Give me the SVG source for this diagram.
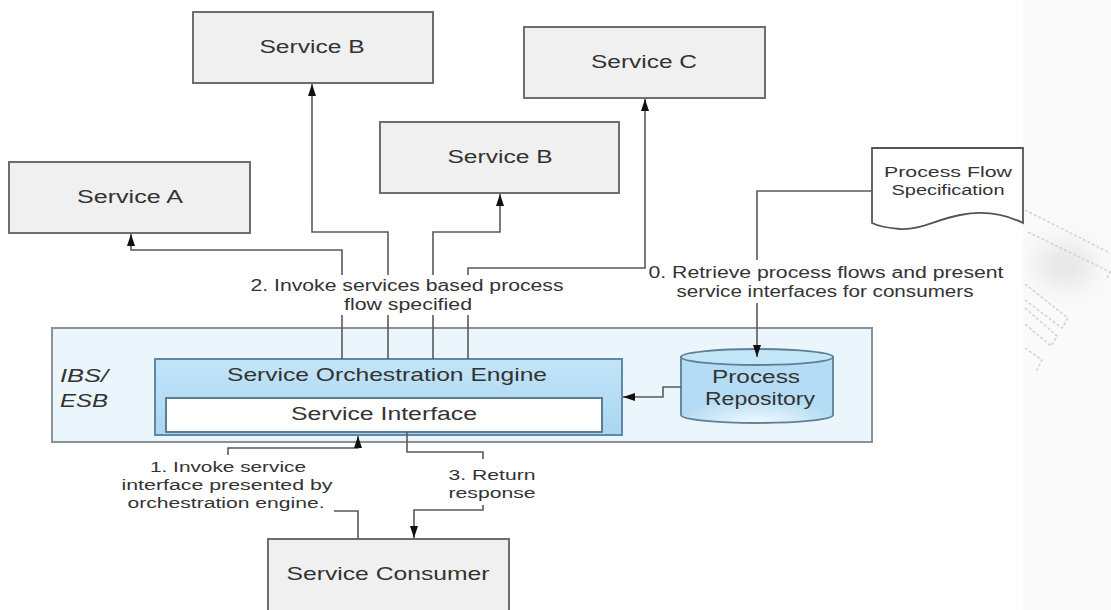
<svg xmlns="http://www.w3.org/2000/svg" width="1111" height="610" viewBox="0 0 1111 610">
  <style>
    text { font-family: "Liberation Sans", Arial, sans-serif; fill: #333; }
    .svc { fill: #f0f0f0; stroke: #6e6e6e; stroke-width: 2; }
    .lbl18 { font-size: 18px; text-anchor: middle; }
    .lbl15 { font-size: 15.5px; text-anchor: middle; }
    .conn { fill: none; stroke: #5a5a5a; stroke-width: 1.6; }
    .wm { fill: none; stroke: #d2d2d2; stroke-width: 1.5; stroke-dasharray: 3 2; }
  </style>
  <defs>
    <marker id="arrow" markerUnits="userSpaceOnUse" markerWidth="12" markerHeight="8" refX="12" refY="4" orient="auto">
      <path d="M0,0 L12,4 L0,8 Z" fill="#111"/>
    </marker>
    <linearGradient id="engineFill" x1="0" y1="0" x2="0" y2="1">
      <stop offset="0" stop-color="#c2e4f8"/>
      <stop offset="1" stop-color="#a9d6f1"/>
    </linearGradient>
    <radialGradient id="cylFill" cx="757" cy="425" r="80" gradientUnits="userSpaceOnUse" gradientTransform="translate(0,280) scale(1,0.34)">
      <stop offset="0" stop-color="#f4fbff"/>
      <stop offset="1" stop-color="#b4dcf4"/>
    </radialGradient>
    <filter id="soft" x="-50%" y="-50%" width="200%" height="200%">
      <feGaussianBlur stdDeviation="12"/>
    </filter>
  </defs>

  <!-- page background -->
  <rect x="0" y="0" width="1111" height="610" fill="#ffffff"/>
  <rect x="1023" y="0" width="88" height="610" fill="#fafafa"/>
  <g id="watermark">
    <ellipse cx="1065" cy="265" rx="30" ry="22" fill="#e6e6e6" filter="url(#soft)"/>
    <path class="wm" d="M1025,210 L1110,253 M1028,232 L1110,272 L1106,280 M1025,284 L1068,318 L1062,328 L1025,300 M1025,308 L1057,336 L1051,346 L1025,324 M1025,348 L1042,360 L1036,372"/>
  </g>

  <!-- services -->
  <g id="service-a">
    <rect class="svc" x="9" y="162" width="241" height="71"/>
    <text class="lbl18" x="130" y="203" textLength="106" lengthAdjust="spacingAndGlyphs">Service A</text>
  </g>
  <g id="service-b-top">
    <rect class="svc" x="193" y="12" width="240" height="71"/>
    <text class="lbl18" x="312" y="53" textLength="105" lengthAdjust="spacingAndGlyphs">Service B</text>
  </g>
  <g id="service-b-mid">
    <rect class="svc" x="380" y="122" width="239" height="71"/>
    <text class="lbl18" x="500" y="163" textLength="105" lengthAdjust="spacingAndGlyphs">Service B</text>
  </g>
  <g id="service-c">
    <rect class="svc" x="524" y="27" width="241" height="71"/>
    <text class="lbl18" x="644" y="68" textLength="106" lengthAdjust="spacingAndGlyphs">Service C</text>
  </g>

  <!-- process flow specification document -->
  <g id="process-flow-spec">
    <path d="M872,148 H1023 V223 C1005,214 985,210 960,215 C935,220 920,230 900,229 C888,228 878,226 872,223 Z" fill="#ffffff" stroke="#555" stroke-width="1.8"/>
    <text class="lbl15" x="948" y="177" textLength="128" lengthAdjust="spacingAndGlyphs">Process Flow</text>
    <text class="lbl15" x="948" y="195" textLength="113" lengthAdjust="spacingAndGlyphs">Specification</text>
  </g>

  <!-- integration bus container -->
  <g id="ibs-esb">
    <rect x="52" y="328" width="820" height="114" fill="#eaf5fc" stroke="#8a9297" stroke-width="2"/>
    <text x="60" y="382" font-size="19" font-style="italic" textLength="48" lengthAdjust="spacingAndGlyphs">IBS/</text>
    <text x="60" y="407" font-size="19" font-style="italic" textLength="48" lengthAdjust="spacingAndGlyphs">ESB</text>
  </g>

  <g id="orchestration-engine">
    <rect x="155" y="359" width="467" height="76" fill="url(#engineFill)" stroke="#5f88a6" stroke-width="2"/>
    <text x="387" y="381" font-size="19" text-anchor="middle" textLength="320" lengthAdjust="spacingAndGlyphs">Service Orchestration Engine</text>
  </g>

  <g id="service-interface">
    <rect x="166" y="398" width="436" height="34" fill="#ffffff" stroke="#5f7d92" stroke-width="2"/>
    <text class="lbl18" x="384" y="420" textLength="186" lengthAdjust="spacingAndGlyphs">Service Interface</text>
  </g>

  <g id="process-repository">
    <path d="M681,357 V415 A76,8 0 0 0 833,415 V357 Z" fill="url(#cylFill)" stroke="#5f7f95" stroke-width="1.8"/>
    <ellipse cx="757" cy="357" rx="76" ry="8" fill="#c4e6f9" stroke="#5f7f95" stroke-width="1.8"/>
    <text class="lbl18" x="756" y="383" textLength="88" lengthAdjust="spacingAndGlyphs">Process</text>
    <text class="lbl18" x="760" y="405" textLength="110" lengthAdjust="spacingAndGlyphs">Repository</text>
  </g>

  <g id="service-consumer">
    <rect class="svc" x="268" y="539" width="241" height="80"/>
    <text x="388" y="580" font-size="19" text-anchor="middle" textLength="203" lengthAdjust="spacingAndGlyphs">Service Consumer</text>
  </g>

  <!-- connectors -->
  <g id="connectors">
    <path class="conn" d="M342,359 V315 M342,275 V250 H131 V234" marker-end="url(#arrow)"/>
    <path class="conn" d="M388,359 V315 M388,275 V232 H312 V84" marker-end="url(#arrow)"/>
    <path class="conn" d="M433,359 V315 M433,275 V232 H500 V194" marker-end="url(#arrow)"/>
    <path class="conn" d="M468,359 V315 M468,275 V268 H645 V99" marker-end="url(#arrow)"/>
    <path class="conn" d="M872,191 H757 V260 M757,303 V357" marker-end="url(#arrow)"/>
    <path class="conn" d="M681,387 H663 V397 H623" marker-end="url(#arrow)"/>
    <path class="conn" d="M358,539 V511 H334 M228,455 V448 H358 V436" marker-end="url(#arrow)"/>
    <path class="conn" d="M407,432 V452 H483 V459 M483,505 V510 H414 V538" marker-end="url(#arrow)"/>
  </g>

  <!-- connector labels -->
  <g id="labels">
    <text x="407" y="291" font-size="16" text-anchor="middle" textLength="313" lengthAdjust="spacingAndGlyphs">2. Invoke services based process</text>
    <text x="408" y="310" font-size="16" text-anchor="middle" textLength="128" lengthAdjust="spacingAndGlyphs">flow specified</text>
    <text x="826" y="278" font-size="16" text-anchor="middle" textLength="355" lengthAdjust="spacingAndGlyphs">0. Retrieve process flows and present</text>
    <text x="825" y="297" font-size="16" text-anchor="middle" textLength="297" lengthAdjust="spacingAndGlyphs">service interfaces for consumers</text>
    <text class="lbl15" x="228" y="472" textLength="156" lengthAdjust="spacingAndGlyphs">1. Invoke service</text>
    <text class="lbl15" x="227" y="490" textLength="211" lengthAdjust="spacingAndGlyphs">interface presented by</text>
    <text class="lbl15" x="226" y="508" textLength="197" lengthAdjust="spacingAndGlyphs">orchestration engine.</text>
    <text class="lbl15" x="492" y="480" textLength="87" lengthAdjust="spacingAndGlyphs">3. Return</text>
    <text class="lbl15" x="492" y="498" textLength="87" lengthAdjust="spacingAndGlyphs">response</text>
  </g>
</svg>
